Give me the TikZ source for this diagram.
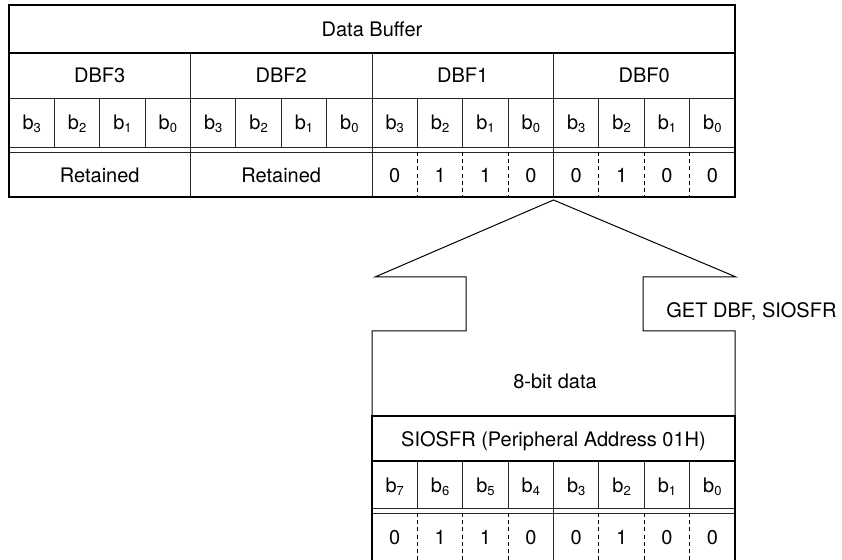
\documentclass[tikz,border=0pt]{standalone}
\usepackage{fontspec}
\setmainfont{TeX Gyre Heros}
\usepackage{tikz}
\usetikzlibrary{positioning}

\newcommand{\bitlbl}[1]{b\raisebox{-0.3ex}{\fontsize{6.5}{7}\selectfont #1}}

\begin{document}
\begin{tikzpicture}[x=0.5pt, y=-0.5pt,
    every node/.style={font=\fontsize{10}{12}\selectfont, inner sep=0pt,
                       text height=7.2pt, text depth=0pt},
    frame/.style={line width=1.2pt},
    rule/.style={line width=0.45pt, draw=black!85},
    headrule/.style={line width=0.9pt},
    bitdash/.style={line width=0.45pt, dash pattern=on 2pt off 1.6pt},
    shaft/.style={line width=0.5pt}]
  \useasboundingbox (0,0) rectangle (842,560);
  % data buffer table
  \draw[headrule] (9,53) -- (735,53);
  \draw[rule] (9,98) -- (735,98);
  \draw[rule] (9,147) -- (735,147);
  \draw[rule] (9,152) -- (735,152);
  \foreach \i in {4,8,12} \draw[rule] ({9+\i*45.375},53) -- ({9+\i*45.375},197);
  \foreach \i in {1,2,3,5,6,7,9,10,11,13,14,15} \draw[rule] ({9+\i*45.375},98) -- ++(0,49);
  \foreach \i in {9,10,11,13,14,15} \draw[bitdash] ({9+\i*45.375},152) -- ++(0,45);
  \draw[frame] (9,5) rectangle (735,197);
  \node (buf) at (372,29) {Data Buffer};
  \foreach \k in {0,...,3} {
    \pgfmathtruncatemacro\n{3-\k}
    \node (dbf\n) at ({9+(4*\k+2)*45.375},75) {DBF\n};
  }
  \foreach \i in {0,...,15} {
    \pgfmathtruncatemacro\bn{3-mod(\i,4)}
    \node (tb\i) at ({9+(\i+0.5)*45.375},122) {\bitlbl{\bn}};
  }
  \node (ret3) at (99.75,175) {Retained};
  \node (ret2) at (281.25,175) {Retained};
  \foreach \v [count=\i from 8] in {0,1,1,0,0,1,0,0}
    \node (tv\i) at ({9+(\i+0.5)*45.375},175) {\v};
  % transfer arrow
  \draw[shaft] (372,416) -- (372,331) -- (466,331) -- (466,277) -- (375,277)
    -- (553.5,200) -- (736,277) -- (643,277) -- (643,331) -- (735,331) -- (735,416);
  \node (getlbl) [anchor=west] at (666,310) {GET DBF, SIOSFR};
  \node (width) at (555,381) {8-bit data};
  % SIOSFR register
  \draw[headrule] (372,461) -- (735,461);
  \draw[rule] (372,508) -- (735,508);
  \draw[rule] (372,513) -- (735,513);
  \draw[rule] (553.5,461) -- (553.5,562);
  \foreach \i in {1,2,3,5,6,7} \draw[rule] ({372+\i*45.375},461) -- ++(0,47);
  \foreach \i in {1,2,3,5,6,7} \draw[bitdash] ({372+\i*45.375},513) -- ++(0,49);
  \draw[frame] (372,416) rectangle (735,562);
  \node (sio) at (553.5,439) {SIOSFR (Peripheral Address 01H)};
  \foreach \i in {0,...,7} {
    \pgfmathtruncatemacro\bn{7-\i}
    \node (sb\bn) at ({372+(\i+0.5)*45.375},485) {\bitlbl{\bn}};
  }
  \foreach \v [count=\i from 0] in {0,1,1,0,0,1,0,0}
    \node (sv\i) at ({372+(\i+0.5)*45.375},537) {\v};
\end{tikzpicture}
\end{document}
